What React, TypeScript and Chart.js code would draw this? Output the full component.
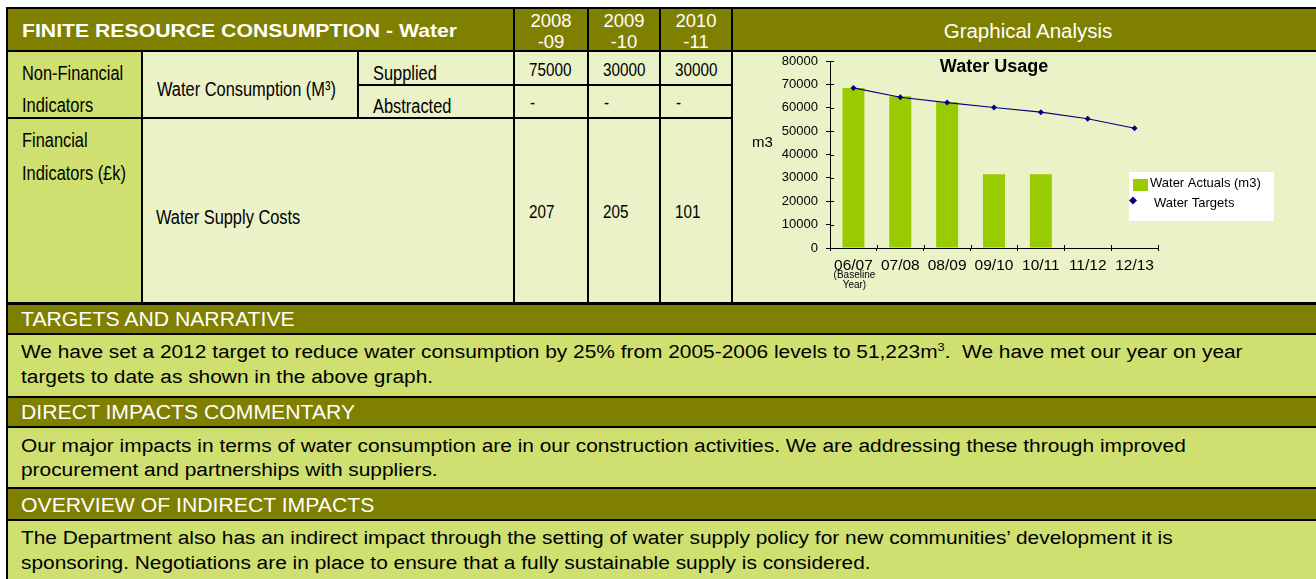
import React, { useEffect, useRef } from 'react';
import { Chart, registerables } from 'chart.js';

Chart.register(...registerables);

// ---------- data ----------
const categories = ['06/07', '07/08', '08/09', '09/10', '10/11', '11/12', '12/13'];
const waterActuals = [68400, 64900, 62400, 31500, 31500, null, null];
const waterTargets = [68500, 64500, 62200, 60100, 58100, 55300, 51223];
const yMin = 0;
const yMax = 80000;
const yStep = 10000;
const baselineNote = ['(Baseline', 'Year)'];
const chartTitle = 'Water Usage';
const yAxisTitle = 'm3';
const seriesLabels = ['Water Actuals (m3)', 'Water Targets'];

const yearHeads = [['2008', '-09'], ['2009', '-10'], ['2010', '-11']];
const suppliedValues = ['75000', '30000', '30000'];
const abstractedValues = ['-', '-', '-'];
const supplyCostValues = ['207', '205', '101'];

// ---------- styles ----------
const FONT = '"Liberation Sans", Arial, Helvetica, sans-serif';
const OLIVE = '#808000';
const LIGHT = '#EBF2C8';
const MID = '#CFE070';
const BAR = '#99CC00';
const NAVY = '#000080';

Chart.defaults.font.family = FONT;

type TProps = {
  x: number;
  cy: number;
  size: number;
  children: React.ReactNode;
  bold?: boolean;
  color?: string;
  sx?: number;
  align?: 'left' | 'center';
};

function T({ x, cy, size, children, bold = false, color = '#000', sx = 1, align = 'left' }: TProps) {
  const L = Math.round(size * 1.3);
  const style: React.CSSProperties = {
    position: 'absolute',
    top: cy - L / 2,
    left: x,
    height: L,
    lineHeight: L + 'px',
    fontSize: size,
    fontWeight: bold ? 'bold' : 'normal',
    color,
    whiteSpace: 'nowrap',
    transformOrigin: align === 'left' ? 'left center' : 'center center',
    transform: align === 'left' ? `scaleX(${sx})` : `translateX(-50%) scaleX(${sx})`,
  };
  return <div style={style}>{children}</div>;
}

function Box({ x, y, w, h, bg }: { x: number; y: number; w: number; h: number; bg: string }) {
  return <div style={{ position: 'absolute', left: x, top: y, width: w, height: h, background: bg }} />;
}

const NARROW = 0.82;
const BODY = 18;
const BODY_SX = 1.16;
const SEC = 20;
const SEC_SX = 1.06;

function WaterChart() {
  const ref = useRef<HTMLCanvasElement | null>(null);
  useEffect(() => {
    if (!ref.current) return;
    const decor = {
      id: 'decor',
      afterDraw(chart: any) {
        const { ctx, chartArea, scales } = chart;
        const xs = scales.x;
        const ys = scales.y;
        ctx.save();
        ctx.strokeStyle = '#000';
        ctx.lineWidth = 1;
        // inner halves of crossing tick marks
        ys.ticks.forEach((_t: any, i: number) => {
          const py = Math.round(ys.getPixelForTick(i)) + 0.5;
          ctx.beginPath();
          ctx.moveTo(chartArea.left, py);
          ctx.lineTo(chartArea.left + 4, py);
          ctx.stroke();
        });
        const n = categories.length;
        const cw = (xs.right - xs.left) / n;
        for (let i = 0; i <= n; i++) {
          const px = Math.round(xs.left + i * cw) + 0.5;
          ctx.beginPath();
          ctx.moveTo(px, chartArea.bottom);
          ctx.lineTo(px, chartArea.bottom - 3);
          ctx.stroke();
        }
        ctx.fillStyle = '#000';
        ctx.textBaseline = 'middle';
        // title
        ctx.textAlign = 'center';
        ctx.font = `bold 18px ${FONT}`;
        ctx.fillText(chartTitle, (chartArea.left + chartArea.right) / 2, chartArea.top + 6);
        // y axis title (horizontal)
        ctx.font = `15px ${FONT}`;
        ctx.fillText(yAxisTitle, 29.5, (chartArea.top + chartArea.bottom) / 2 - 12);
        // baseline note under first category
        ctx.font = `10px ${FONT}`;
        const bx = xs.getPixelForValue(0) + 1;
        ctx.fillText(baselineNote[0], bx, chartArea.bottom + 27);
        ctx.fillText(baselineNote[1], bx, chartArea.bottom + 37);
        // legend
        const lx = 396;
        const ly = 120;
        ctx.fillStyle = '#fff';
        ctx.fillRect(lx, ly, 145, 49);
        ctx.fillStyle = BAR;
        ctx.fillRect(lx + 4, ly + 7, 15, 12);
        ctx.fillStyle = NAVY;
        ctx.beginPath();
        const dx = lx + 4, dy = ly + 28.5, r = 4;
        ctx.moveTo(dx, dy - r);
        ctx.lineTo(dx + r, dy);
        ctx.lineTo(dx, dy + r);
        ctx.lineTo(dx - r, dy);
        ctx.closePath();
        ctx.fill();
        ctx.fillStyle = '#000';
        ctx.textAlign = 'left';
        ctx.font = `13px ${FONT}`;
        ctx.fillText(seriesLabels[0], lx + 21, ly + 11);
        ctx.fillText(seriesLabels[1], lx + 25, ly + 31);
        ctx.restore();
      },
    };
    const chart = new Chart(ref.current, {
      type: 'bar',
      data: {
        labels: categories,
        datasets: [
          {
            type: 'line',
            label: seriesLabels[1],
            data: waterTargets,
            borderColor: NAVY,
            backgroundColor: NAVY,
            borderWidth: 1.2,
            pointStyle: 'rectRot',
            pointRadius: 3,
            pointBorderWidth: 0,
            pointBackgroundColor: NAVY,
            tension: 0,
            fill: false,
          } as any,
          {
            type: 'bar',
            label: seriesLabels[0],
            data: waterActuals,
            backgroundColor: BAR,
            borderWidth: 0,
            barPercentage: 0.47,
            categoryPercentage: 1,
          } as any,
        ],
      },
      options: {
        animation: false,
        responsive: false,
        maintainAspectRatio: false,
        devicePixelRatio: 1,
        layout: { padding: { left: 0, top: 9, right: 158, bottom: 0 } },
        plugins: {
          legend: { display: false },
          tooltip: { enabled: false },
          title: { display: false },
        },
        scales: {
          x: {
            type: 'category',
            offset: true,
            grid: { display: true, drawOnChartArea: false, drawTicks: true, tickLength: 3, color: '#000', offset: true },
            border: { display: true, color: '#000', width: 1 },
            ticks: { color: '#000', font: { size: 15.5 }, padding: 5, maxRotation: 0, autoSkip: false },
            afterFit: (s: any) => {
              s.height = 54;
              s.paddingLeft = 0;
              s.paddingRight = 0;
            },
          },
          y: {
            min: yMin,
            max: yMax,
            grid: { display: true, drawOnChartArea: false, drawTicks: true, tickLength: 4, color: '#000' },
            border: { display: true, color: '#000', width: 1 },
            ticks: {
              stepSize: yStep,
              color: '#000',
              font: { size: 13 },
              padding: 8,
              callback: (v: any) => String(v),
            },
            afterFit: (s: any) => {
              s.width = 97;
              s.paddingTop = 0;
              s.paddingBottom = 0;
            },
          },
        },
      },
      plugins: [decor],
    } as any);
    return () => chart.destroy();
  }, []);
  return <canvas ref={ref} width={583} height={250} style={{ position: 'absolute', left: 733, top: 52, width: 583, height: 250 }} />;
}

export default function App() {
  const numCols = [515, 589, 661];
  const numW = [72, 70, 70];
  return (
    <div style={{ position: 'relative', width: 1316, height: 579, overflow: 'hidden', background: '#fff', fontFamily: FONT }}>
      <style>{`body{margin:0}`}</style>
      {/* black frame / grid lines */}
      <Box x={6} y={7} w={1310} h={572} bg="#000" />
      {/* header row */}
      <Box x={8} y={9} w={505} h={41} bg={OLIVE} />
      {numCols.map((c, i) => <Box key={'h' + i} x={c} y={9} w={numW[i]} h={41} bg={OLIVE} />)}
      <Box x={733} y={9} w={583} h={41} bg={OLIVE} />
      {/* non-financial row */}
      <Box x={8} y={52} w={133} h={65} bg={MID} />
      <Box x={143} y={52} w={214} h={65} bg={LIGHT} />
      <Box x={359} y={52} w={154} h={32} bg={LIGHT} />
      <Box x={359} y={86} w={154} h={31} bg={LIGHT} />
      {numCols.map((c, i) => <Box key={'s' + i} x={c} y={52} w={numW[i]} h={32} bg={LIGHT} />)}
      {numCols.map((c, i) => <Box key={'a' + i} x={c} y={86} w={numW[i]} h={31} bg={LIGHT} />)}
      {/* graph cell */}
      <Box x={733} y={52} w={583} h={250} bg={LIGHT} />
      {/* financial row */}
      <Box x={8} y={119} w={133} h={183} bg={MID} />
      <Box x={143} y={119} w={370} h={183} bg={LIGHT} />
      {numCols.map((c, i) => <Box key={'f' + i} x={c} y={119} w={numW[i]} h={183} bg={LIGHT} />)}
      {/* narrative sections */}
      <Box x={8} y={305} w={1308} h={28} bg={OLIVE} />
      <Box x={8} y={335} w={1308} h={61} bg={MID} />
      <Box x={8} y={398} w={1308} h={28} bg={OLIVE} />
      <Box x={8} y={428} w={1308} h={59} bg={MID} />
      <Box x={8} y={489} w={1308} h={30} bg={OLIVE} />
      <Box x={8} y={521} w={1308} h={58} bg={MID} />

      {/* header texts */}
      <T x={21.5} cy={30} size={19} bold color="#fff" sx={1.116}>FINITE RESOURCE CONSUMPTION - Water</T>
      {yearHeads.map((yh, i) => (
        <React.Fragment key={'yh' + i}>
          <T x={numCols[i] + numW[i] / 2} cy={20.5} size={18.5} color="#fff" align="center">{yh[0]}</T>
          <T x={numCols[i] + numW[i] / 2} cy={41.5} size={18.5} color="#fff" align="center">{yh[1]}</T>
        </React.Fragment>
      ))}
      <T x={1028} cy={30} size={20.5} color="#fff" align="center">Graphical Analysis</T>

      {/* non-financial row */}
      <T x={21.5} cy={72.5} size={20} sx={NARROW}>Non-Financial</T>
      <T x={21.5} cy={104.5} size={20} sx={NARROW}>Indicators</T>
      <T x={157} cy={89} size={20} sx={NARROW}>Water Consumption (M³)</T>
      <T x={373} cy={72.5} size={20} sx={NARROW}>Supplied</T>
      <T x={373} cy={105.5} size={20} sx={NARROW}>Abstracted</T>
      {suppliedValues.map((v, i) => <T key={'sv' + i} x={numCols[i] + 14} cy={69.5} size={18.6} sx={NARROW}>{v}</T>)}
      {abstractedValues.map((v, i) => <T key={'av' + i} x={numCols[i] + 15} cy={103} size={18.6} sx={NARROW}>{v}</T>)}

      {/* financial row */}
      <T x={21.5} cy={139.5} size={20} sx={NARROW}>Financial</T>
      <T x={21.5} cy={172.5} size={20} sx={NARROW}>Indicators (£k)</T>
      <T x={156} cy={216.5} size={20} sx={NARROW}>Water Supply Costs</T>
      {supplyCostValues.map((v, i) => <T key={'fv' + i} x={numCols[i] + 14} cy={212} size={18.6} sx={NARROW}>{v}</T>)}

      {/* narrative */}
      <T x={20.5} cy={319} size={SEC} sx={SEC_SX} color="#fff">TARGETS AND NARRATIVE</T>
      <T x={20.5} cy={352.5} size={BODY} sx={BODY_SX}>
        We have set a 2012 target to reduce water consumption by 25% from 2005-2006 levels to 51,223m
        <sup style={{ fontSize: 11, lineHeight: 0, verticalAlign: '7px' }}>3</sup>.{'\u00a0 '}We have met our year on year
      </T>
      <T x={20.5} cy={377.5} size={BODY} sx={BODY_SX}>targets to date as shown in the above graph.</T>

      <T x={20.5} cy={412} size={SEC} sx={SEC_SX} color="#fff">DIRECT IMPACTS COMMENTARY</T>
      <T x={20.5} cy={446} size={BODY} sx={BODY_SX}>Our major impacts in terms of water consumption are in our construction activities. We are addressing these through improved</T>
      <T x={20.5} cy={470.5} size={BODY} sx={BODY_SX}>procurement and partnerships with suppliers.</T>

      <T x={20.5} cy={504.5} size={SEC} sx={SEC_SX} color="#fff">OVERVIEW OF INDIRECT IMPACTS</T>
      <T x={20.5} cy={538.5} size={BODY} sx={BODY_SX}>The Department also has an indirect impact through the setting of water supply policy for new communities’ development it is</T>
      <T x={20.5} cy={563} size={BODY} sx={BODY_SX}>sponsoring. Negotiations are in place to ensure that a fully sustainable supply is considered.</T>

      <WaterChart />
    </div>
  );
}
